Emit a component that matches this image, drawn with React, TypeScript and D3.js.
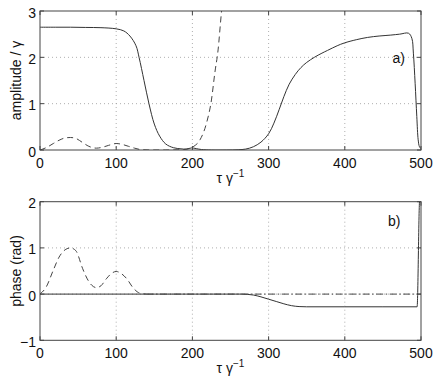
import React from "react";
import * as d3 from "d3";

// ---------- data ----------
const xTicks = [0, 100, 200, 300, 400, 500];
const ampTicks = [0, 1, 2, 3];
const phaseTicks = [-1, 0, 1, 2];

// panel a) amplitude, solid
const ampSolidX = [0, 20, 40, 60, 80, 100, 110, 118, 126, 130, 136.5, 143, 150, 157, 165, 175, 185, 192, 199, 205, 212, 225, 245, 260, 270, 280, 290, 300, 307, 314, 320, 327, 335, 342.5, 350, 360, 370, 377.4, 390, 399.3, 415, 430, 445, 460.4, 472, 483.7, 488, 490, 492.3, 494.5, 496.3, 498, 500];
const ampSolidY = [2.65, 2.65, 2.65, 2.645, 2.64, 2.615, 2.57, 2.46, 2.25, 2.0, 1.5, 1.0, 0.56, 0.3, 0.13, 0.05, 0.025, 0.02, 0.045, 0.03, 0.01, 0.0, 0.0, 0.005, 0.02, 0.07, 0.17, 0.35, 0.58, 0.88, 1.15, 1.42, 1.63, 1.78, 1.89, 2.0, 2.09, 2.15, 2.25, 2.31, 2.38, 2.43, 2.46, 2.48, 2.5, 2.52, 2.41, 2.09, 1.44, 0.72, 0.22, 0.07, 0.03];

// panel a) amplitude, dashed
const ampDashX = [0, 8, 17.5, 25, 33, 40, 47, 56, 64, 74, 82, 90, 100, 108, 116, 124, 132, 145, 165, 185, 193, 201, 210, 218.5, 225, 229.4, 233.7, 238, 241];
const ampDashY = [0.0, 0.05, 0.14, 0.21, 0.26, 0.27, 0.25, 0.16, 0.08, 0.04, 0.06, 0.1, 0.14, 0.12, 0.08, 0.04, 0.01, 0.0, 0.0, 0.005, 0.02, 0.07, 0.22, 0.58, 1.08, 1.66, 2.16, 2.95, 3.4];

// panel b) phase, solid
const phaseSolidX = [0, 100, 200, 265, 272, 280, 290, 300, 310, 320, 330, 340, 350, 400, 450, 494.9, 498, 500];
const phaseSolidY = [0, 0, 0, 0, -0.005, -0.02, -0.06, -0.11, -0.16, -0.21, -0.25, -0.27, -0.275, -0.275, -0.275, -0.275, 2.0, 2.3];

// panel b) phase, dashed
const phaseDashX = [0, 8, 17.5, 25, 33, 40, 47, 56, 62, 68, 74, 80, 87, 94, 100, 107, 114, 122, 131, 140, 200, 300, 400, 500];
const phaseDashY = [0.0, 0.15, 0.52, 0.8, 0.96, 1.0, 0.94, 0.55, 0.33, 0.19, 0.14, 0.18, 0.33, 0.45, 0.49, 0.44, 0.33, 0.14, 0.02, 0.0, 0.0, 0.0, 0.0, 0.0];

const FONT = "'Liberation Sans', Arial, Helvetica, sans-serif";

type Series = [number[], number[]];
type PanelProps = {
  id: string;
  top: number;
  bottom: number;
  yDomain: [number, number];
  yTicks: number[];
  yLabel: string;
  tag: string;
  tagX: number;
  tagY: number;
  solid: Series;
  solidCurve: d3.CurveFactory;
  dashed: Series;
  dashSplit: number; // x beyond which the dashed series is drawn dash-dot
};

const LEFT = 40;
const RIGHT = 421;

function Panel(p: PanelProps) {
  const x = d3.scaleLinear().domain([0, 500]).range([LEFT, RIGHT]);
  const y = d3.scaleLinear().domain(p.yDomain).range([p.bottom, p.top]);
  const mk = (c: d3.CurveFactory) =>
    d3
      .line<[number, number]>()
      .x((d) => x(d[0]))
      .y((d) => y(d[1]))
      .curve(c);
  const pts = (s: Series) => s[0].map((v, i) => [v, s[1][i]] as [number, number]);
  const dashPts = pts(p.dashed);
  const dashA = dashPts.filter((d) => d[0] <= p.dashSplit);
  const dashB = dashPts.filter((d) => d[0] >= p.dashSplit);
  const tick = 4;
  const gridX = xTicks.filter((t) => t > 0 && t < 500);
  const gridY = p.yTicks.filter((t) => t > p.yDomain[0] && t < p.yDomain[1]);
  return (
    <g>
      <defs>
        <clipPath id={p.id}>
          <rect x={LEFT} y={p.top} width={RIGHT - LEFT} height={p.bottom - p.top} />
        </clipPath>
      </defs>
      {gridX.map((t) => (
        <line key={"gx" + t} x1={x(t)} x2={x(t)} y1={p.top} y2={p.bottom} stroke="#9a9a9a" strokeWidth={0.8} strokeDasharray="1,3" />
      ))}
      {gridY.map((t) => (
        <line key={"gy" + t} x1={LEFT} x2={RIGHT} y1={y(t)} y2={y(t)} stroke="#9a9a9a" strokeWidth={0.8} strokeDasharray="1,3" />
      ))}
      <g clipPath={`url(#${p.id})`}>
        <path d={mk(p.solidCurve)(pts(p.solid)) || ""} fill="none" stroke="#333" strokeWidth={1} />
        <path d={mk(d3.curveMonotoneX)(dashA) || ""} fill="none" stroke="#444" strokeWidth={1} strokeDasharray="6,4" />
        {dashB.length > 1 && (
          <path d={mk(d3.curveMonotoneX)(dashB) || ""} fill="none" stroke="#444" strokeWidth={1} strokeDasharray="7,2.5,1.5,2.5" />
        )}
      </g>
      <rect x={LEFT} y={p.top} width={RIGHT - LEFT} height={p.bottom - p.top} fill="none" stroke="#444" strokeWidth={1} />
      {xTicks.map((t) => (
        <g key={"xt" + t}>
          <line x1={x(t)} x2={x(t)} y1={p.bottom} y2={p.bottom - tick} stroke="#444" />
          <line x1={x(t)} x2={x(t)} y1={p.top} y2={p.top + tick} stroke="#444" />
          <text x={x(t)} y={p.bottom + 17.5} textAnchor="middle" fontSize={14} fontFamily={FONT} fill="#111">
            {t}
          </text>
        </g>
      ))}
      {p.yTicks.map((t) => (
        <g key={"yt" + t}>
          <line x1={LEFT} x2={LEFT + tick} y1={y(t)} y2={y(t)} stroke="#444" />
          <line x1={RIGHT} x2={RIGHT - tick} y1={y(t)} y2={y(t)} stroke="#444" />
          <text x={36} y={y(t) + 6.5} textAnchor="end" fontSize={14} fontFamily={FONT} fill="#111">
            {t < 0 ? "\u2212" + Math.abs(t) : t}
          </text>
        </g>
      ))}
      <text
        transform={`translate(21,${(p.top + p.bottom) / 2}) rotate(-90)`}
        textAnchor="middle"
        fontSize={14}
        fontFamily={FONT}
        fill="#111"
      >
        {p.yLabel}
      </text>
      <text x={(LEFT + RIGHT) / 2} y={p.bottom + 33} textAnchor="middle" fontSize={14} fontFamily={FONT} fill="#111">
        {"\u03C4 \u03B3"}
        <tspan fontSize={10} dy={-6}>
          {"\u22121"}
        </tspan>
      </text>
      <text x={p.tagX} y={p.tagY} fontSize={14} fontFamily={FONT} fill="#111">
        {p.tag}
      </text>
    </g>
  );
}

export default function App() {
  return (
    <svg
      width={436}
      height={382}
      viewBox="0 0 436 382"
      style={{ position: "absolute", left: 0, top: 0, background: "#fff" }}
    >
      <rect x={0} y={0} width={436} height={382} fill="#fff" />
      <Panel
        id="clipA"
        top={11}
        bottom={150}
        yDomain={[0, 3]}
        yTicks={ampTicks}
        yLabel={"amplitude / \u03B3"}
        tag="a)"
        tagX={392.5}
        tagY={62.5}
        solid={[ampSolidX, ampSolidY]}
        solidCurve={d3.curveCatmullRom.alpha(0.5)}
        dashed={[ampDashX, ampDashY]}
        dashSplit={1000}
      />
      <Panel
        id="clipB"
        top={201.7}
        bottom={340.3}
        yDomain={[-1, 2]}
        yTicks={phaseTicks}
        yLabel="phase (rad)"
        tag="b)"
        tagX={388}
        tagY={226}
        solid={[phaseSolidX, phaseSolidY]}
        solidCurve={d3.curveMonotoneX}
        dashed={[phaseDashX, phaseDashY]}
        dashSplit={140}
      />
    </svg>
  );
}
